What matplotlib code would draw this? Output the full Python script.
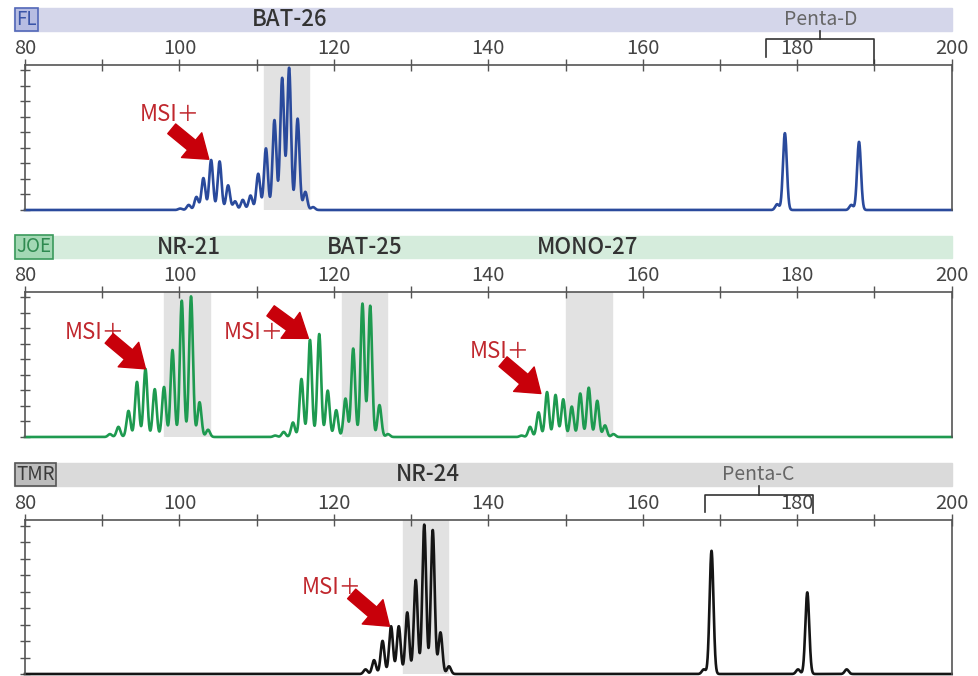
import numpy as np
import matplotlib
matplotlib.use('Agg')
import matplotlib.pyplot as plt
from matplotlib.patches import Rectangle, FancyArrowPatch
from matplotlib import transforms

plt.rcParams['font.family'] = ['Noto Sans CJK JP', 'DejaVu Sans']

# peak sizes (bp) and heights (fraction of panel height)
bat26_pos = [100.1, 101.2, 102.2, 103.1, 104.1, 105.2, 106.3, 107.2, 108.2, 109.2,
             110.2, 111.2, 112.3, 113.3, 114.2, 115.3, 116.3, 117.3]
bat26_h = [0.01, 0.035, 0.09, 0.22, 0.345, 0.335, 0.17, 0.06, 0.07, 0.10,
           0.25, 0.425, 0.62, 0.91, 0.98, 0.63, 0.125, 0.02]
pentad_pos = [177.4, 178.4, 187.0, 188.0]
pentad_h = [0.04, 0.53, 0.035, 0.47]

nr21_pos = [91.0, 92.1, 93.4, 94.5, 95.6, 96.8, 98.0, 99.1, 100.3, 101.5, 102.6, 103.7]
nr21_h = [0.02, 0.07, 0.18, 0.38, 0.47, 0.33, 0.345, 0.60, 0.94, 0.97, 0.24, 0.05]
bat25_pos = [112.4, 113.5, 114.7, 115.8, 116.9, 118.1, 119.2, 120.3, 121.5, 122.5,
             123.7, 124.7, 125.9, 127.0]
bat25_h = [0.01, 0.035, 0.10, 0.40, 0.67, 0.71, 0.32, 0.185, 0.265, 0.61,
           0.92, 0.905, 0.22, 0.02]
mono27_pos = [144.3, 145.4, 146.5, 147.6, 148.7, 149.7, 150.8, 151.9, 153.0, 154.1,
              155.1, 156.2]
mono27_h = [0.01, 0.07, 0.17, 0.31, 0.29, 0.26, 0.21, 0.30, 0.34, 0.25, 0.08, 0.02]

nr24_pos = [124.1, 125.2, 126.3, 127.4, 128.4, 129.5, 130.6, 131.7, 132.8, 133.8, 134.9]
nr24_h = [0.03, 0.09, 0.215, 0.31, 0.31, 0.40, 0.61, 0.97, 0.935, 0.27, 0.05]
pentac_pos = [167.9, 168.9, 180.1, 181.3, 186.4]
pentac_h = [0.03, 0.80, 0.03, 0.53, 0.03]

bat26_band = (111.0, 116.8)
nr21_band = (98.0, 103.9)
bat25_band = (121.0, 126.9)
mono27_band = (150.0, 156.0)
nr24_band = (129.0, 134.8)

W, H = 979, 676
fig = plt.figure(figsize=(W / 100, H / 100), dpi=100)


def fy(px):
    return 1 - px / H


def trace(pos, hts, s=0.25):
    x = np.linspace(80, 200, 8000)
    y = np.zeros_like(x)
    for p, h in zip(pos, hts):
        y += h * np.exp(-0.5 * ((x - p) / s) ** 2)
    return x, y


def make_panel(top, bottom, hdr, hdr_color, dye, dye_fc, dye_ec, dye_tc):
    ax = fig.add_axes([25 / W, fy(bottom), 926.7 / W, (bottom - top) / H])
    ax.set_xlim(80, 200)
    ax.set_ylim(0, 1)
    ax.xaxis.set_ticks_position('top')
    ax.set_xticks(range(80, 201, 20))
    ax.set_xticks(range(90, 200, 20), minor=True)
    ax.set_yticks(np.arange(0, 10) * 0.107)
    ax.tick_params(axis='x', which='both', direction='inout', length=9, width=1,
                   color='#555555', labelsize=14.5, labelcolor='#444444', pad=0,
                   labeltop=True, labelbottom=False)
    ax.tick_params(axis='y', direction='inout', length=7, width=1,
                   color='#555555', labelleft=False)
    for sp in ['top', 'left', 'right']:
        ax.spines[sp].set_color('#555555')
        ax.spines[sp].set_linewidth(1.2)
    ax.spines['bottom'].set_visible(False)
    tr = transforms.blended_transform_factory(ax.transData, fig.transFigure)
    ax.add_patch(Rectangle((78.58, fy(hdr[1])), 121.42, fy(hdr[0]) - fy(hdr[1]),
                           transform=tr, color=hdr_color, clip_on=False, zorder=0))
    ax.text(78.9, fy((hdr[0] + hdr[1]) / 2), dye, transform=tr, ha='left', va='center',
            fontsize=13.5, color=dye_tc,
            bbox=dict(boxstyle='square,pad=0.06', fc=dye_fc, ec=dye_ec, lw=1.2))
    return ax, tr


def header_label(ax, tr, x, hdr, s, size=16, color='#333333', weight='medium'):
    ax.text(x, fy((hdr[0] + hdr[1]) / 2), s, transform=tr, ha='center', va='center',
            fontsize=size, color=color, fontweight=weight)


def bracket(ax, tr, x0, x1, xm, y_top, y_hdr, y_l, y_r, label, hdr):
    kw = dict(transform=tr, color='#333333', lw=1.2, clip_on=False)
    ax.plot([x0, x0, x1, x1], [fy(y_l), fy(y_top), fy(y_top), fy(y_r)], **kw)
    ax.plot([xm, xm], [fy(y_hdr), fy(y_top)], **kw)
    header_label(ax, tr, xm, hdr, label, size=14, color='#666666', weight='normal')


def msi(ax, tx, ty, tail, head):
    ax.text(tx, ty, 'MSI＋', ha='left', va='center', fontsize=16, color='#c0272d')
    ax.add_patch(FancyArrowPatch(tail, head, arrowstyle='simple,head_width=2.3,head_length=1.6,tail_width=0.9',
                                 mutation_scale=10, color='#c8000a', shrinkA=0, shrinkB=0,
                                 zorder=5))


# panel 1: FL
hdr1 = (8, 31)
ax1, tr1 = make_panel(65, 210, hdr1, '#d4d6ea', 'FL', '#b7bde2', '#5368b8', '#3a55a8')
ax1.axvspan(*bat26_band, color='#e2e2e2', zorder=0)
x, y = trace(bat26_pos + pentad_pos, bat26_h + pentad_h)
ax1.plot(x, y, color='#2a4a9c', lw=1.9, clip_on=False)
header_label(ax1, tr1, 114.3, hdr1, 'BAT-26')
bracket(ax1, tr1, 176.0, 190.0, 183.0, 39, 31, 57, 65, 'Penta-D', hdr1)
msi(ax1, 94.9, 0.66, (99.0, 0.56), (103.8, 0.35))

# panel 2: JOE
hdr2 = (236, 258)
ax2, tr2 = make_panel(292, 437, hdr2, '#d5ecdc', 'JOE', '#a3d8b4', '#3b9a5c', '#2f8a50')
for band in [nr21_band, bat25_band, mono27_band]:
    ax2.axvspan(*band, color='#e2e2e2', zorder=0)
x, y = trace(nr21_pos + bat25_pos + mono27_pos, nr21_h + bat25_h + mono27_h)
ax2.plot(x, y, color='#1e9a50', lw=1.9, clip_on=False)
header_label(ax2, tr2, 101.2, hdr2, 'NR-21')
header_label(ax2, tr2, 124.0, hdr2, 'BAT-25')
header_label(ax2, tr2, 152.8, hdr2, 'MONO-27')
msi(ax2, 85.2, 0.72, (90.9, 0.68), (95.6, 0.47))
msi(ax2, 105.7, 0.72, (111.8, 0.87), (116.7, 0.68))
msi(ax2, 137.6, 0.59, (141.9, 0.52), (146.8, 0.30))

# panel 3: TMR
hdr3 = (463, 486)
ax3, tr3 = make_panel(520, 674, hdr3, '#dadada', 'TMR', '#bdbdbd', '#555555', '#3a3a3a')
ax3.axvspan(*nr24_band, color='#e2e2e2', zorder=0)
x, y = trace(nr24_pos + pentac_pos, nr24_h + pentac_h)
ax3.plot(x, y, color='#151515', lw=1.9, clip_on=False)
header_label(ax3, tr3, 132.2, hdr3, 'NR-24')
bracket(ax3, tr3, 168.0, 182.0, 175.0, 495, 486, 512, 513, 'Penta-C', hdr3)
msi(ax3, 115.8, 0.56, (122.3, 0.52), (127.2, 0.31))

fig.savefig('out.png', dpi=100)
